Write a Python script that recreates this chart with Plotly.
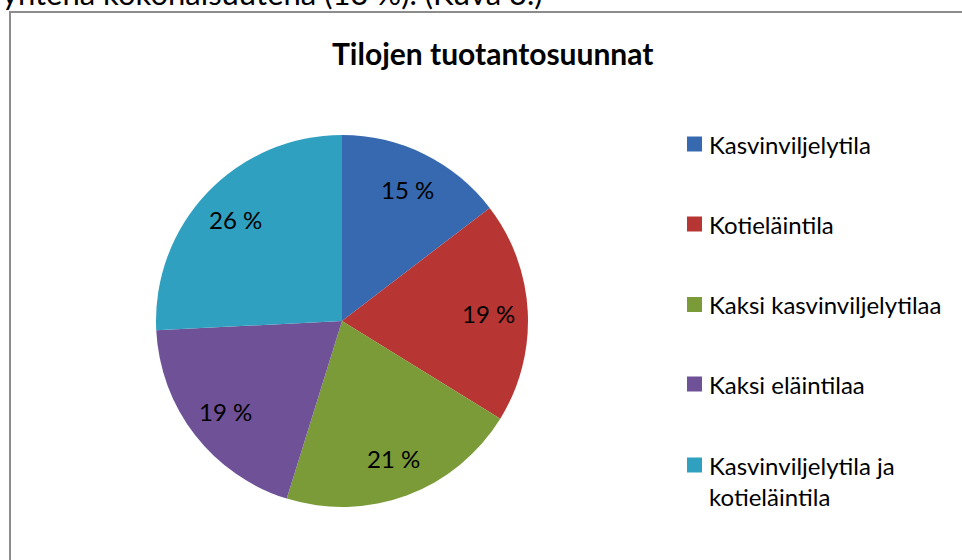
import math
import plotly.graph_objects as go

categories = ["Kasvinviljelytila", "Kotieläintila", "Kaksi kasvinviljelytilaa",
              "Kaksi eläintilaa", "Kasvinviljelytila ja<br>kotieläintila"]
shares = [14.6, 19.2, 21.0, 19.4, 25.8]
colors = ["#3669B0", "#B73634", "#7A9B38", "#6F5197", "#30A0C0"]
title_text = "Tilojen tuotantosuunnat"
top_text = "yhtenä kokonaisuutena (13 %). (Kuva 3.)"

W, H = 962, 560
FONT = "Lato"
CX, CY, R = 342, 321, 186

fig = go.Figure()
fig.add_trace(go.Pie(
    labels=categories, values=shares, sort=False, direction="clockwise", rotation=0,
    marker=dict(colors=colors, line=dict(width=0)),
    textinfo="none",
    domain=dict(x=[(CX - R) / W, (CX + R) / W], y=[(H - CY - R) / H, (H - CY + R) / H]),
    showlegend=False, hoverinfo="label+percent",
))

shapes = [dict(type="rect", xref="paper", yref="paper", x0=10 / W, x1=1.05, y0=-0.05, y1=1 - 12 / H,
               line=dict(color="#8C8C8C", width=2), fillcolor="rgba(0,0,0,0)")]
annotations = [
    dict(text=f"<b>{title_text}</b>", x=492 / W, y=1 - 53 / H, xref="paper", yref="paper",
         showarrow=False, font=dict(family=FONT, size=30, color="black"), xanchor="center", yanchor="middle"),
    dict(text=top_text, x=0, y=1 + 7 / H, xref="paper", yref="paper", showarrow=False,
         font=dict(family=FONT, size=31, color="black"), xanchor="left", yanchor="middle"),
]

# slice value labels placed at mid-angle of each slice
total = sum(shares)
cum = 0.0
for v in shares:
    mid = (cum + v / 2) / total * 2 * math.pi
    cum += v
    lx = CX + 0.79 * R * math.sin(mid)
    ly = CY - 0.79 * R * math.cos(mid)
    annotations.append(dict(text=f"{v:.0f} %", x=lx / W, y=1 - ly / H, xref="paper", yref="paper",
                            showarrow=False, xanchor="center", yanchor="middle",
                            font=dict(family=FONT, size=24, color="black")))

row_centers = [144, 224, 304.5, 384, 465]
for i, (cat, col) in enumerate(zip(categories, colors)):
    cy = row_centers[i]
    shapes.append(dict(type="rect", xref="paper", yref="paper", x0=687 / W, x1=702 / W,
                       y0=1 - (cy + 7.5) / H, y1=1 - (cy - 7.5) / H, fillcolor=col, line=dict(width=0)))
    annotations.append(dict(text=cat, x=707 / W, y=1 - (cy - 16) / H, xref="paper", yref="paper",
                            showarrow=False, align="left", xanchor="left", yanchor="top",
                            font=dict(family=FONT, size=24, color="black")))

fig.update_layout(width=W, height=H, margin=dict(l=0, r=0, t=0, b=0),
                  paper_bgcolor="white", plot_bgcolor="white",
                  shapes=shapes, annotations=annotations)
fig.write_html("out.html", config={"displayModeBar": False},
               post_script="document.body.style.margin='0';")
